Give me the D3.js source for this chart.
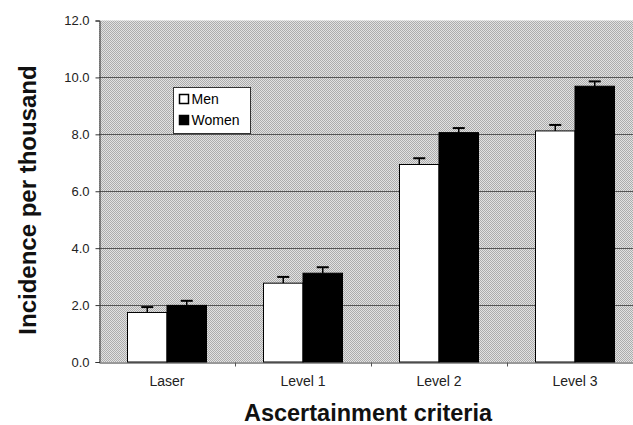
<!DOCTYPE html>
<html>
<head>
<meta charset="utf-8">
<script src="https://cdn.jsdelivr.net/npm/d3@7"></script>
<style>
  body { margin: 0; background: #fff; }
  svg { display: block; }
</style>
</head>
<body>
<svg id="chart"></svg>
<script>
const categories = ["Laser", "Level 1", "Level 2", "Level 3"];
const series = ["Men", "Women"];
const menValues = [1.74, 2.77, 6.94, 8.12];
const womenValues = [1.99, 3.12, 8.06, 9.69];
const menErrors = [0.19, 0.22, 0.22, 0.21];
const womenErrors = [0.16, 0.21, 0.16, 0.17];
const yTicks = [0, 2, 4, 6, 8, 10, 12];

const width = 633, height = 425;
const margin = {top: 20.5, left: 99, bottom: 362};

const svg = d3.select("#chart").attr("width", width).attr("height", height);

// dithered grey background like the scanned original
const defs = svg.append("defs");
const pat = defs.append("pattern")
  .attr("id", "dither")
  .attr("width", 2).attr("height", 2)
  .attr("patternUnits", "userSpaceOnUse");
pat.append("rect").attr("width", 2).attr("height", 2).attr("fill", "#e2e2e2");
pat.append("rect").attr("width", 1).attr("height", 1).attr("fill", "#acacac");
pat.append("rect").attr("x", 1).attr("y", 1).attr("width", 1).attr("height", 1).attr("fill", "#acacac");

const bandW = 136;
const x = d3.scaleBand()
  .domain(categories)
  .range([margin.left, margin.left + bandW * categories.length]);
const xSeries = d3.scaleBand()
  .domain(series)
  .range([28.5, 107.5]);
const y = d3.scaleLinear().domain([0, 12]).range([margin.bottom, margin.top]);

svg.append("rect")
  .attr("x", margin.left).attr("y", y(12))
  .attr("width", width - margin.left).attr("height", y(0) - y(12))
  .attr("fill", "url(#dither)");

// gridlines
svg.selectAll("line.grid")
  .data(yTicks.filter(d => d > 0 && d < 12))
  .enter().append("line")
  .attr("class", "grid")
  .attr("x1", margin.left).attr("x2", width)
  .attr("y1", d => Math.round(y(d)) + 0.5).attr("y2", d => Math.round(y(d)) + 0.5)
  .style("stroke", "#555")
  .style("stroke-width", 1);

// y axis
const yAxis = svg.append("g")
  .attr("transform", "translate(" + (margin.left + 0.5) + ",0)")
  .call(d3.axisLeft(y).tickValues(yTicks).tickFormat(d3.format(".1f")).tickSize(4).tickPadding(6));
yAxis.select(".domain").style("stroke", "#333");
yAxis.selectAll(".tick line").style("stroke", "#333");
yAxis.selectAll("text")
  .style("font-family", "Liberation Sans, Arial, sans-serif")
  .style("font-size", "13px")
  .style("fill", "#222");

// x axis
const xAxis = svg.append("g")
  .attr("transform", "translate(0," + (margin.bottom + 0.5) + ")")
  .call(d3.axisBottom(x).tickSize(0).tickPadding(14));
xAxis.select(".domain").style("stroke", "#333");
xAxis.selectAll("text")
  .style("font-family", "Liberation Sans, Arial, sans-serif")
  .style("font-size", "14px")
  .style("fill", "#222");
xAxis.selectAll("line.sep")
  .data(categories.slice(1))
  .enter().append("line")
  .attr("class", "sep")
  .attr("x1", d => Math.round(x(d)) + 0.5).attr("x2", d => Math.round(x(d)) + 0.5)
  .attr("y1", 0).attr("y2", 4)
  .style("stroke", "#555");

// bars
const rows = categories.map((c, i) => ({
  cat: c,
  vals: [
    {s: "Men", v: menValues[i], e: menErrors[i]},
    {s: "Women", v: womenValues[i], e: womenErrors[i]}
  ]
}));

const groups = svg.selectAll("g.cat")
  .data(rows)
  .enter().append("g")
  .attr("class", "cat")
  .attr("transform", d => "translate(" + x(d.cat) + ",0)");

// error bars (drawn before bars so the stem starts at the bar top)
groups.selectAll("line.err")
  .data(d => d.vals)
  .enter().append("line")
  .attr("class", "err")
  .attr("x1", d => xSeries(d.s) + xSeries.bandwidth() / 2)
  .attr("x2", d => xSeries(d.s) + xSeries.bandwidth() / 2)
  .attr("y1", d => y(d.v))
  .attr("y2", d => y(d.v + d.e))
  .style("stroke", "#000")
  .style("stroke-width", 1.5);
groups.selectAll("line.cap")
  .data(d => d.vals)
  .enter().append("line")
  .attr("class", "cap")
  .attr("x1", d => xSeries(d.s) + xSeries.bandwidth() / 2 - 6)
  .attr("x2", d => xSeries(d.s) + xSeries.bandwidth() / 2 + 6)
  .attr("y1", d => y(d.v + d.e))
  .attr("y2", d => y(d.v + d.e))
  .style("stroke", "#000")
  .style("stroke-width", 2);

groups.selectAll("rect.bar")
  .data(d => d.vals)
  .enter().append("rect")
  .attr("class", "bar")
  .attr("x", d => xSeries(d.s))
  .attr("y", d => y(d.v))
  .attr("width", xSeries.bandwidth())
  .attr("height", d => y(0) - y(d.v))
  .style("fill", d => d.s === "Men" ? "#fff" : "#000")
  .style("stroke", "#000")
  .style("stroke-width", 1);

// legend
const legend = svg.append("g").attr("transform", "translate(173.5,87.5)");
legend.append("rect")
  .attr("width", 77).attr("height", 46)
  .style("fill", "#fff")
  .style("stroke", "#333")
  .style("stroke-width", 1);
legend.selectAll("rect.key")
  .data(series)
  .enter().append("rect")
  .attr("class", "key")
  .attr("x", 6).attr("y", (d, i) => 7 + i * 21)
  .attr("width", 9).attr("height", 9)
  .style("fill", d => d === "Men" ? "#fff" : "#000")
  .style("stroke", "#000")
  .style("stroke-width", 1.5);
legend.selectAll("text.key")
  .data(series)
  .enter().append("text")
  .attr("class", "key")
  .attr("x", 18).attr("y", (d, i) => 16.5 + i * 21)
  .style("font-family", "Liberation Sans, Arial, sans-serif")
  .style("font-size", "14px")
  .style("fill", "#000")
  .text(d => d);

// axis titles
svg.append("text")
  .attr("transform", "translate(36,200) rotate(-90)")
  .attr("text-anchor", "middle")
  .style("font-family", "Liberation Sans, Arial, sans-serif")
  .style("font-weight", "bold")
  .style("font-size", "24px")
  .style("fill", "#111")
  .text("Incidence per thousand");

svg.append("text")
  .attr("x", 368).attr("y", 421)
  .attr("text-anchor", "middle")
  .style("font-family", "Liberation Sans, Arial, sans-serif")
  .style("font-weight", "bold")
  .style("font-size", "23.5px")
  .style("fill", "#111")
  .text("Ascertainment criteria");
</script>
</body>
</html>
